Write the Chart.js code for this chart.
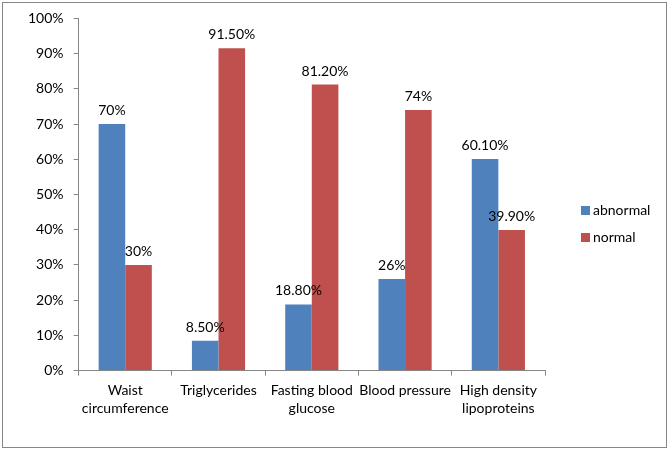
<!DOCTYPE html>
<html>
<head>
<meta charset="utf-8">
<script src="https://cdn.jsdelivr.net/npm/chart.js@4.4.0/dist/chart.umd.min.js"></script>
<style>
  html, body { margin: 0; padding: 0; background: #fff; }
  #wrap { width: 669px; height: 450px; position: relative; }
</style>
</head>
<body>
<div id="wrap"><canvas id="chart"></canvas></div>
<script>
const categories = [
    ['Waist', 'circumference'],
    ['Triglycerides'],
    ['Fasting blood', 'glucose'],
    ['Blood pressure'],
    ['High density', 'lipoproteins']
];
const abnormal = [70, 8.5, 18.8, 26, 60.1];
const normal = [30, 91.5, 81.2, 74, 39.9];
const yTicks = [0, 10, 20, 30, 40, 50, 60, 70, 80, 90, 100];

const fontFamily = 'Lato, "Liberation Sans", sans-serif';
const fontSize = 14;
const axisColor = '#868686';

function fmtPct(v) {
    return Number.isInteger(v) ? v + '%' : v.toFixed(2) + '%';
}

// white background + grey frame round the whole chart
const framePlugin = {
    id: 'frame',
    beforeDraw(chart) {
        const ctx = chart.ctx;
        ctx.save();
        ctx.fillStyle = '#fff';
        ctx.fillRect(0, 0, chart.width, chart.height);
        ctx.strokeStyle = axisColor;
        ctx.lineWidth = 1;
        ctx.strokeRect(2.5, 2.5, chart.width - 5, chart.height - 5);
        ctx.restore();
    }
};

// value labels above each bar
const valueLabels = {
    id: 'valueLabels',
    afterDatasetsDraw(chart) {
        const ctx = chart.ctx;
        ctx.save();
        ctx.font = fontSize + 'px ' + fontFamily;
        ctx.fillStyle = '#000';
        ctx.textAlign = 'center';
        ctx.textBaseline = 'alphabetic';
        chart.data.datasets.forEach((ds, i) => {
            chart.getDatasetMeta(i).data.forEach((bar, j) => {
                ctx.fillText(fmtPct(ds.data[j]), bar.x, bar.y - 9);
            });
        });
        ctx.restore();
    }
};

// legend to the right of the plot, centred vertically
const sideLegend = {
    id: 'sideLegend',
    afterDraw(chart) {
        const ctx = chart.ctx;
        const x = chart.chartArea.right + 36;
        const step = 27;
        const n = chart.data.datasets.length;
        let y = chart.height / 2 - (n - 1) * step / 2 - 1;
        ctx.save();
        ctx.font = fontSize + 'px ' + fontFamily;
        ctx.textBaseline = 'middle';
        ctx.textAlign = 'left';
        chart.data.datasets.forEach(ds => {
            ctx.fillStyle = ds.backgroundColor;
            ctx.fillRect(x, y - 4.5, 9, 9);
            ctx.fillStyle = '#000';
            ctx.fillText(ds.label, x + 12, y);
            y += step;
        });
        ctx.restore();
    }
};

const ctx = document.getElementById('chart').getContext('2d');
new Chart(ctx, {
    type: 'bar',
    data: {
        labels: categories,
        datasets: [
            { label: 'abnormal', data: abnormal, backgroundColor: '#4F81BD' },
            { label: 'normal', data: normal, backgroundColor: '#C0504D' }
        ]
    },
    options: {
        responsive: true,
        maintainAspectRatio: false,
        animation: false,
        layout: { padding: { left: 18, right: 124, top: 11, bottom: 26 } },
        plugins: { legend: { display: false }, tooltip: { enabled: false } },
        datasets: { bar: { categoryPercentage: 0.57, barPercentage: 1 } },
        scales: {
            x: {
                grid: { offset: true, drawOnChartArea: false, color: axisColor, tickLength: 5 },
                border: { color: axisColor },
                ticks: { color: '#000', padding: 6, maxRotation: 0, autoSkip: false,
                         font: { family: fontFamily, size: fontSize, lineHeight: 1.3 } }
            },
            y: {
                min: 0,
                max: 100,
                afterBuildTicks(scale) { scale.ticks = yTicks.map(v => ({ value: v })); },
                grid: { drawOnChartArea: false, color: axisColor, tickLength: 5 },
                border: { color: axisColor },
                ticks: { color: '#000', padding: 10, callback: v => v + '%',
                         font: { family: fontFamily, size: fontSize } }
            }
        }
    },
    plugins: [framePlugin, valueLabels, sideLegend]
});
</script>
</body>
</html>
